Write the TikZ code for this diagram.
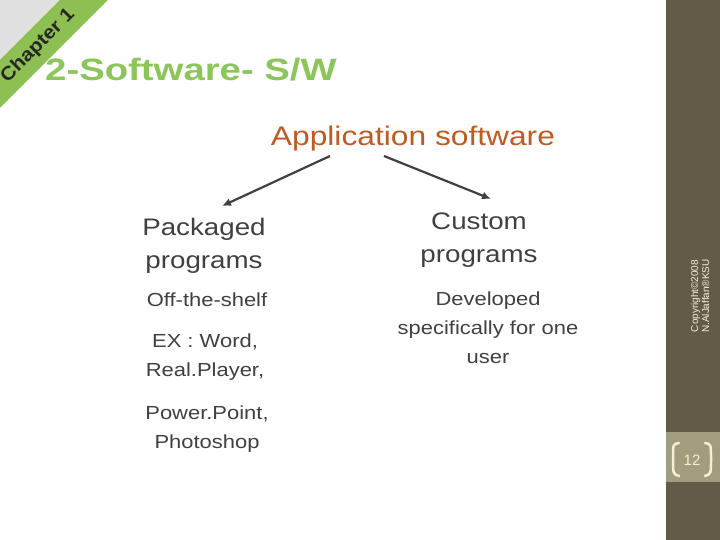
\documentclass[tikz,border=0pt]{standalone}
\usepackage{fontspec}
\setmainfont{Liberation Sans}
\usetikzlibrary{arrows.meta}
\definecolor{ttl}{HTML}{8CC65A}
\definecolor{band}{HTML}{8DBF52}
\definecolor{panel}{HTML}{615B48}
\definecolor{numbox}{HTML}{A09E7E}
\definecolor{cream}{HTML}{F4F0D8}
\definecolor{apptxt}{HTML}{BF5B22}
\begin{document}
\begin{tikzpicture}[x=1bp,y=-1bp,
  body/.style={text=black!75,align=center,inner sep=0pt,xscale=1.16},
  arr/.style={draw=black!75,line width=2.2pt,-{Latex[length=9pt,width=8pt]}}]
\useasboundingbox (0,0) rectangle (720,540);
\fill[white] (0,0) rectangle (720,540);
\fill[black!12] (0,0) -- (60,0) -- (0,60) -- cycle;
\fill[band] (60,0) -- (108,0) -- (0,108) -- (0,60) -- cycle;
\node[rotate=45,font=\bfseries\fontsize{19}{19}\selectfont,text=black!85,xscale=1.1] (chap) at (38,46) {Chapter 1};
\fill[panel] (666,0) rectangle (720,540);
\fill[numbox] (666,432) rectangle (720,482);
\node[font=\bfseries\fontsize{31}{31}\selectfont,text=ttl,anchor=west,xscale=1.24,inner sep=0pt] (title) at (45,70) {2-Software- S/W};
\node[font=\fontsize{27}{27}\selectfont,text=apptxt,xscale=1.18] (app) at (413,139) {Application software};
\node[rotate=90,font=\fontsize{10}{11}\selectfont,text=cream,align=center] (copy) at (700,296) {Copyright©2008\\N.AlJaffan®KSU};
\node[font=\fontsize{15}{15}\selectfont,text=cream] (num) at (692,460) {12};
\draw[cream,line width=2.5pt,line cap=round] (679,443) .. controls (673,444) .. (673,459) .. controls (673,474) .. (679,476);
\draw[cream,line width=2.5pt,line cap=round] (705,443) .. controls (711,444) .. (711,459) .. controls (711,474) .. (705,476);
\coordinate (a1) at (330,156);
\coordinate (a2) at (384,156);
\node[body,font=\fontsize{24}{33}\selectfont] (pack) at (204,246) {Packaged\\programs};
\node[body,font=\fontsize{24}{33}\selectfont] (cust) at (479,240) {Custom\\programs};
\node[body,font=\fontsize{19}{29}\selectfont] (off) at (207,300) {Off-the-shelf};
\node[body,font=\fontsize{19}{29}\selectfont] (ex) at (205,357) {EX : Word,\\Real.Player,};
\node[body,font=\fontsize{19}{29}\selectfont] (pp) at (207,429) {Power.Point,\\Photoshop};
\node[body,font=\fontsize{19}{29}\selectfont] (dev) at (488,328) {Developed\\specifically for one\\user};
\draw[arr] (a1) -- (222,206);
\draw[arr] (a2) -- (491,199);
\end{tikzpicture}
\end{document}
